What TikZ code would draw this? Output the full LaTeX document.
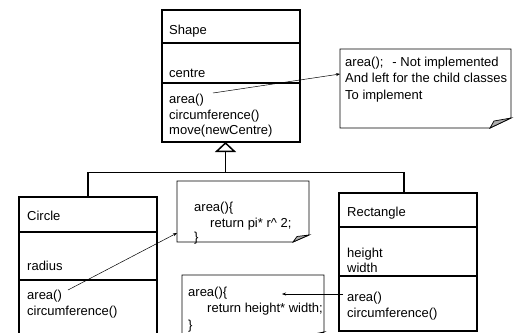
\documentclass[tikz,border=0pt]{standalone}
\usepackage{fontspec}
\setmainfont{Liberation Sans}
\usetikzlibrary{arrows.meta}
\begin{document}
\begin{tikzpicture}[x=1pt,y=-1pt,
  txt/.style={font=\fontsize{13}{16}\selectfont, inner sep=0pt, anchor=base west},
  cls/.style={draw, line width=1.5pt, rectangle, inner sep=0pt, outer sep=0pt, anchor=north west},
  sepline/.style={line width=1.7pt},
  notebox/.style={rectangle, inner sep=0pt, outer sep=0pt, anchor=north west},
  noteline/.style={line width=0.9pt},
  fold/.style={line width=0.7pt, fill=gray!65},
  inh/.style={line width=1.5pt},
  arr/.style={line width=0.5pt, -{Stealth[length=4pt, width=3pt]}}]
\clip (0,0) rectangle (519,332);
\fill[white] (0,0) rectangle (519,332);

% ---- Shape class
\node[cls, minimum width=138pt, minimum height=132pt] (shape) at (162,10) {};
\draw[sepline] (shape.west |- 0,43) -- (shape.east |- 0,43);
\draw[sepline] (shape.west |- 0,83) -- (shape.east |- 0,83);
\node[txt] (shapeName) at (169,34) {Shape};
\node[txt] (shapeAttr) at (169,77) {centre};
\node[txt] (shapeArea) at (169,103) {area()};
\node[txt] (shapeCirc) at (169,119) {circumference()};
\node[txt] (shapeMove) at (169,134.5) {move(newCentre)};

% ---- Circle class
\node[cls, minimum width=138pt, minimum height=150pt] (circle) at (19,197) {};
\draw[sepline] (circle.west |- 0,232) -- (circle.east |- 0,232);
\draw[sepline] (circle.west |- 0,280) -- (circle.east |- 0,280);
\node[txt] (circleName) at (27,220) {Circle};
\node[txt] (circleAttr) at (27,270) {radius};
\node[txt] (circleArea) at (27,299) {area()};
\node[txt] (circleCirc) at (27,315) {circumference()};

% ---- Rectangle class
\node[cls, minimum width=138pt, minimum height=138pt] (rect) at (339,193) {};
\draw[sepline] (rect.west |- 0,227) -- (rect.east |- 0,227);
\draw[sepline] (rect.west |- 0,276) -- (rect.east |- 0,276);
\node[txt] (rectName) at (347,216) {Rectangle};
\node[txt] (rectH) at (347,257) {height};
\node[txt] (rectW) at (347,272) {width};
\node[txt] (rectArea) at (347,301) {area()};
\node[txt] (rectCirc) at (347,317) {circumference()};

% ---- Inheritance
\coordinate (j) at (225.5,172.5);
\coordinate (rtop) at ([xshift=-4pt]rect.north);
\draw[inh] (circle.north) |- (j) -| (rtop);
\draw[inh, -{Triangle[open, length=10pt, width=21pt, line width=1.5pt]}] (j) -- ([xshift=-5.5pt]shape.south);

% ---- Note 1
\node[notebox, minimum width=171pt, minimum height=79pt] (note1) at (340,49) {};
\draw[noteline, fill=white] (note1.north west) -- (note1.north east) -- ([yshift=10pt]note1.south east)
  -- ([xshift=-21pt]note1.south east) -- (note1.south west) -- cycle;
\draw[fold] ([xshift=-21pt]note1.south east) -- ++(4,-7) -- ([yshift=10pt]note1.south east) -- cycle;
\node[txt] (n1a) at (345,66) {area();\hspace{9pt}- Not implemented};
\node[txt] (n1b) at (345,82.5) {And left for the child classes};
\node[txt] (n1c) at (345,99) {To implement};

% ---- Note 2
\node[notebox, minimum width=132pt, minimum height=61pt] (note2) at (177,181) {};
\draw[noteline, fill=white] (note2.north west) -- (note2.north east) -- ([yshift=7pt]note2.south east)
  -- ([xshift=-16pt]note2.south east) -- (note2.south west) -- cycle;
\draw[fold] ([xshift=-16pt]note2.south east) -- ++(4,-5.5) -- ([yshift=7pt]note2.south east) -- cycle;
\node[txt] (n2a) at (194,211) {area()\{};
\node[txt] (n2b) at (210,227) {return pi* r\textasciicircum{} 2;};
\node[txt] (n2c) at (194,241) {\}};

% ---- Note 3
\node[notebox, minimum width=142pt, minimum height=64pt] (note3) at (182,275) {};
\draw[noteline, fill=white] (note3.north west) -- (note3.north east) -- ([yshift=7pt]note3.south east)
  -- ([xshift=-14pt]note3.south east) -- (note3.south west) -- cycle;
\draw[fold] ([xshift=-14pt]note3.south east) -- ++(4,-5) -- ([yshift=7pt]note3.south east) -- cycle;
\node[txt] (n3a) at (188,296) {area()\{};
\node[txt] (n3b) at (207,312) {return height* width;};
\node[txt] (n3c) at (188,329) {\}};

% ---- Arrows
\coordinate (a1) at (213,93);
\draw[arr] (a1) -- ([yshift=14.5pt]note1.west);
\coordinate (c1) at (68,290);
\draw[arr] (c1) -- ([yshift=-21.5pt]note2.west);
\coordinate (r1) at (343,294);
\coordinate (r2) at (282,294);
\draw[arr] (r1) -- (r2);
\end{tikzpicture}
\end{document}
